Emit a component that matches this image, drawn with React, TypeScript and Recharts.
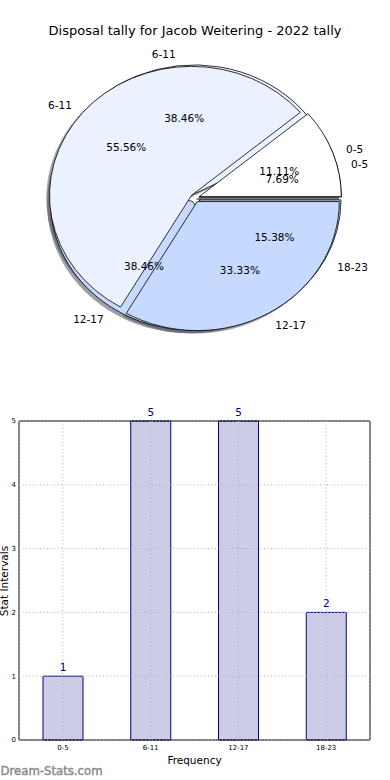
import { Bar, BarChart, CartesianGrid, LabelList, Pie, PieChart, XAxis, YAxis } from 'recharts';

const FONT = '"DejaVu Sans", sans-serif';

// pie drawn on top: 9 games
const tallyCategories = ['0-5', '6-11', '12-17'];
const tallyValues = [1, 5, 3];
// pie underneath + bar chart: 13 games
const intervalCategories = ['0-5', '6-11', '12-17', '18-23'];
const intervalValues = [1, 5, 5, 2];
const yTicks = [0, 1, 2, 3, 4, 5];

const WEDGE_COLORS = ['#ffffff', '#ebf1ff', '#c6d9ff', '#c6d9ff'];

const tallyData = tallyCategories.map((name, i) => ({ name, value: tallyValues[i] }));
const intervalData = intervalCategories.map((name, i) => ({ name, value: intervalValues[i] }));

// matplotlib-ish pie: unequal axes -> elliptical, exploded, with a shadow
const RY_RATIO = 129 / 142;
const EXPLODE = 0.032;
const SHADOW = 0.02;
const RAD = Math.PI / 180;

function shade(hex: string) {
  const n = parseInt(hex.slice(1), 16);
  const r = Math.round(((n >> 16) & 255) * 0.3);
  const g = Math.round(((n >> 8) & 255) * 0.3);
  const b = Math.round((n & 255) * 0.3);
  return `rgb(${r},${g},${b})`;
}

function wedgePath(cx: number, cy: number, rx: number, ry: number, start: number, end: number) {
  const x1 = cx + rx * Math.cos(start * RAD);
  const y1 = cy - ry * Math.sin(start * RAD);
  const x2 = cx + rx * Math.cos(end * RAD);
  const y2 = cy - ry * Math.sin(end * RAD);
  const large = end - start > 180 ? 1 : 0;
  return `M${cx},${cy}L${x1},${y1}A${rx},${ry} 0 ${large} 0 ${x2},${y2}Z`;
}

function geom(p: any) {
  const rx = p.outerRadius;
  const ry = rx * RY_RATIO;
  const mid = ((p.startAngle + p.endAngle) / 2) * RAD;
  const ox = p.cx + EXPLODE * rx * Math.cos(mid);
  const oy = p.cy - EXPLODE * ry * Math.sin(mid);
  return { rx, ry, mid, ox, oy };
}

const shadowWedge = (p: any) => {
  const g = geom(p);
  const c = shade(WEDGE_COLORS[p.index]);
  return (
    <path
      d={wedgePath(g.ox - SHADOW * g.rx, g.oy + SHADOW * g.ry, g.rx, g.ry, p.startAngle, p.endAngle)}
      fill={c}
      stroke={c}
      strokeWidth={0.8}
      opacity={0.5}
    />
  );
};

const wedge = (p: any) => {
  const g = geom(p);
  return (
    <path
      d={wedgePath(g.ox, g.oy, g.rx, g.ry, p.startAngle, p.endAngle)}
      fill={WEDGE_COLORS[p.index]}
      stroke="#000"
      strokeWidth={0.8}
    />
  );
};

const wedgeText = (p: any) => {
  const g = geom(p);
  const xt = g.ox + 1.1 * g.rx * Math.cos(g.mid);
  const yt = g.oy - 1.1 * g.ry * Math.sin(g.mid);
  const xp = g.ox + 0.6 * g.rx * Math.cos(g.mid);
  const yp = g.oy - 0.6 * g.ry * Math.sin(g.mid);
  const name = p.payload?.name ?? p.name;
  return (
    <g fontFamily={FONT} fontSize={10.5} fill="#000">
      <text x={xt} y={yt + 1} textAnchor={xt > p.cx ? 'start' : 'end'} dominantBaseline="central">
        {name}
      </text>
      <text x={xp} y={yp + 1} textAnchor="middle" dominantBaseline="central">
        {(p.percent * 100).toFixed(2)}%
      </text>
    </g>
  );
};

function TallyPie() {
  const common = {
    dataKey: 'value',
    nameKey: 'name',
    cx: 195,
    cy: 198,
    outerRadius: 142,
    fill: 'none',
    stroke: 'none',
    labelLine: false,
    isAnimationActive: false,
  };
  return (
    <PieChart width={390} height={390} margin={{ top: 0, right: 0, bottom: 0, left: 0 }}>
      <Pie {...common} data={intervalData} label={shadowWedge} />
      <Pie {...common} data={tallyData} label={shadowWedge} />
      <Pie {...common} data={intervalData} label={wedge} />
      <Pie {...common} data={tallyData} label={wedge} />
      <Pie {...common} data={intervalData} label={wedgeText} />
      <Pie {...common} data={tallyData} label={wedgeText} />
    </PieChart>
  );
}

function IntervalBars() {
  const tick = { fontSize: 7, fill: '#000', fontFamily: FONT };
  return (
    <BarChart width={390} height={380} data={intervalData} margin={{ top: 20, right: 19, bottom: 20, left: 0 }}>
      <XAxis
        dataKey="name"
        height={20}
        tick={tick}
        tickLine={false}
        tickSize={0}
        tickMargin={5}
        axisLine={{ stroke: '#000' }}
        label={{ value: 'Frequency', position: 'insideBottom', offset: -4, fontSize: 10.5, fill: '#000', fontFamily: FONT }}
      />
      <XAxis xAxisId="t" dataKey="name" orientation="top" height={1} tick={false} tickLine={false} axisLine={{ stroke: '#000' }} />
      <YAxis
        domain={[0, 5]}
        ticks={yTicks}
        width={19}
        tick={tick}
        tickLine={false}
        tickSize={0}
        tickMargin={3}
        axisLine={{ stroke: '#000' }}
      />
      <YAxis yAxisId="r" orientation="right" domain={[0, 5]} width={1} tick={false} tickLine={false} axisLine={{ stroke: '#000' }} />
      <Bar dataKey="value" barSize={40} fill="#cccce6" stroke="#000080" strokeWidth={1} isAnimationActive={false}>
        <LabelList dataKey="value" position="top" offset={5} fill="#000080" fontSize={10.5} fontFamily={FONT} />
      </Bar>
      <CartesianGrid stroke="#b0b0b0" strokeDasharray="1 2.5" {...({ zIndex: 500 } as any)} />
    </BarChart>
  );
}

export default function App() {
  return (
    <div style={{ position: 'absolute', top: 0, left: 0, width: 390, height: 780, fontFamily: FONT }}>
      <div style={{ position: 'absolute', top: 0, left: 0 }}>
        <TallyPie />
      </div>
      <div style={{ position: 'absolute', top: 400, left: 0 }}>
        <IntervalBars />
      </div>
      <svg width={390} height={780} style={{ position: 'absolute', top: 0, left: 0, pointerEvents: 'none' }}>
        <text x={195} y={34.5} textAnchor="middle" fontFamily={FONT} fontSize={13} fill="#000">
          Disposal tally for Jacob Weitering - 2022 tally
        </text>
        {/* y-axis title sits half off the left edge, as in the original */}
        <text x={7.5} y={581} transform="rotate(-90 7.5 581)" textAnchor="middle" fontFamily={FONT} fontSize={10.5} fill="#000">
          Stat Intervals
        </text>
        <text x={0.5} y={775} fontFamily={FONT} fontSize={11.7} fill="#8c8c8c" stroke="#8c8c8c" strokeWidth={0.45}>
          Dream-Stats.com
        </text>
      </svg>
    </div>
  );
}
